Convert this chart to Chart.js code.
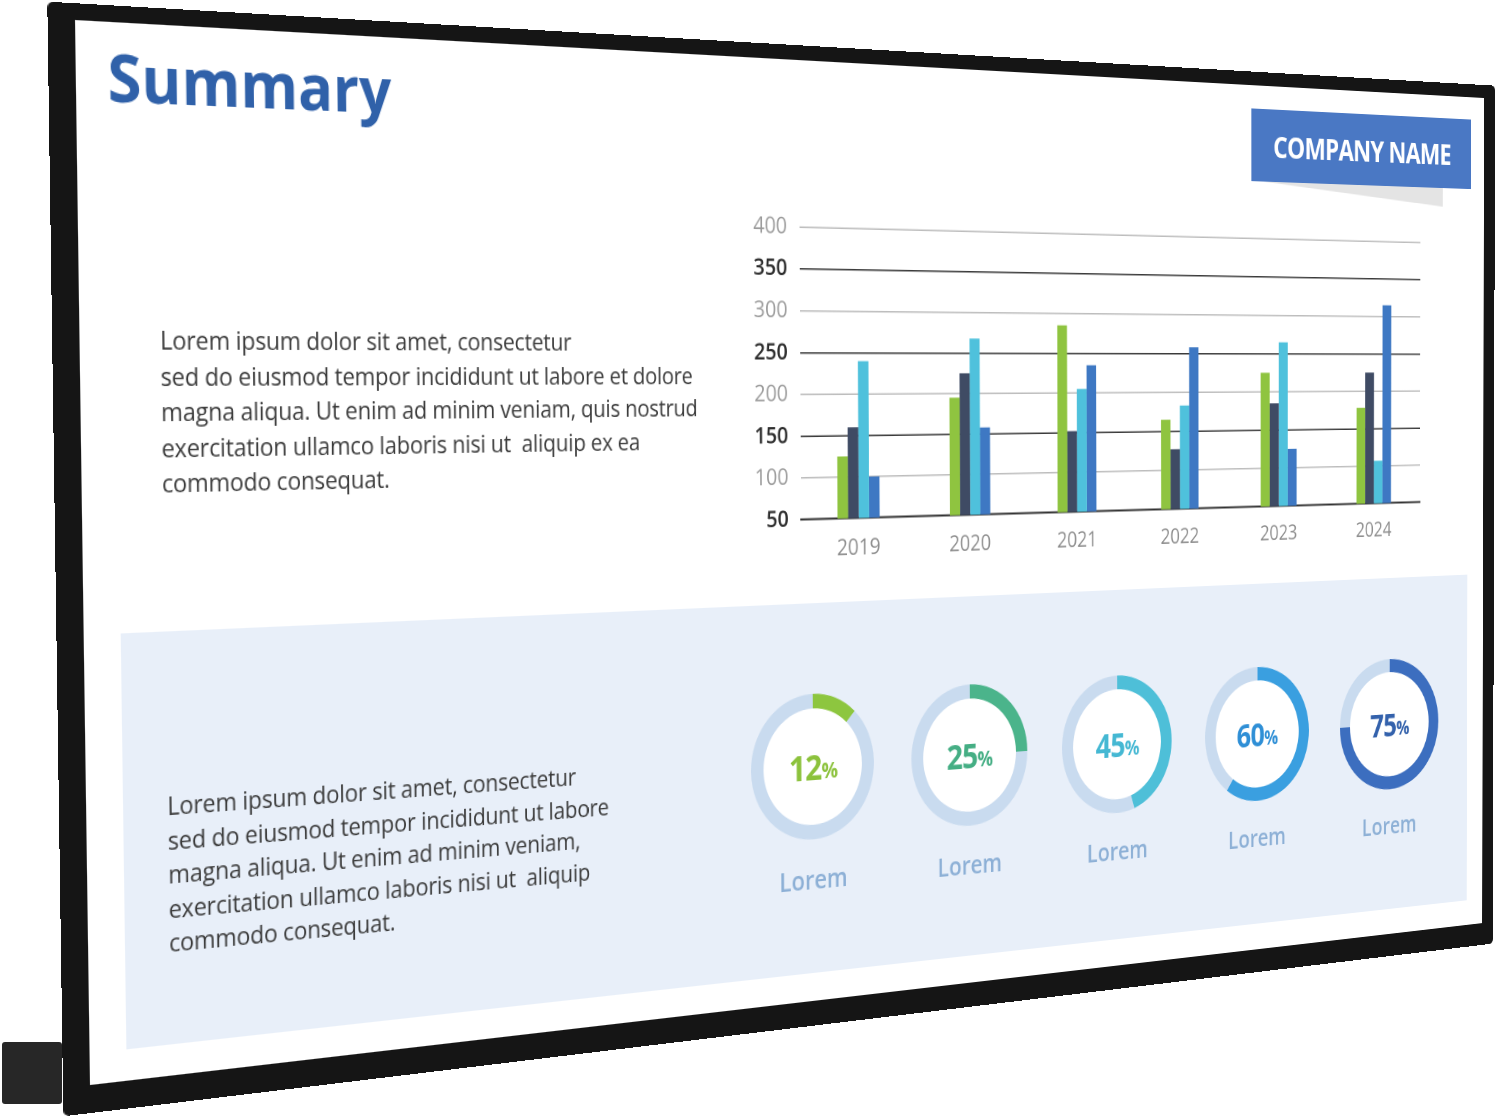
<!DOCTYPE html>
<html>
<head>
<meta charset="utf-8">
<script src="https://cdn.jsdelivr.net/npm/chart.js@4.4.1/dist/chart.umd.min.js"></script>
<style>
    html, body { margin: 0; padding: 0; background: #fff; width: 1500px; height: 1118px; overflow: hidden; font-family: "Open Sans", sans-serif; }
    #bracket { position: absolute; left: 2px; top: 1042px; width: 60px; height: 62px; background: #272727; border-radius: 3px; }
    #screen { position: absolute; left: 0; top: 0; width: 1600px; height: 900px; transform-origin: 0 0; }
    #bezel { position: absolute; left: -24px; top: -14px; right: -16px; bottom: -24px; background: #151515; border-radius: 5px; }
    #inner { position: absolute; left: 0; top: 0; width: 1600px; height: 900px; background: #fff; overflow: hidden; }
    .title { position: absolute; left: 28px; top: 18px; font-size: 55px; font-weight: 700; color: #3061a9; line-height: 1; }
    .company { position: absolute; left: 1274px; top: 24px; width: 307px; height: 75px; background: #4a78c4; color: #fff;
               font-size: 31px; font-weight: 700; letter-spacing: -1px; display: flex; align-items: center; justify-content: center; }
    .company-shadow { position: absolute; left: 1290px; top: 99px; width: 250px; height: 20px; background: #e4e4e4;
                      clip-path: polygon(0 0, 100% 0, 100% 100%); }
    .para { position: absolute; font-size: 21.5px; color: #3b3b3b; white-space: nowrap; letter-spacing: -0.2px; }
    .para.top { left: 72px; top: 253px; line-height: 30.5px; }
    .para.bottom { left: 73px; top: 652px; line-height: 29.5px; }
    .panel { position: absolute; left: 33px; top: 517px; width: 1544px; height: 356px; background: #e8eff9; }
    #bars { position: absolute; left: 639px; top: 131px; }
    .donut { position: absolute; width: 140px; height: 140px; }
    .donut .disc { position: absolute; left: 10px; top: 10px; width: 120px; height: 120px; border-radius: 50%; background: #fff; }
    .donut canvas { position: absolute; left: 0; top: 0; }
    .donut .pct { position: absolute; left: 0; top: 0; width: 140px; height: 140px; display: flex; align-items: center; justify-content: center;
                  font-weight: 700; letter-spacing: -1px; }
    .donut .pct .n { font-size: 34px; }
    .donut .pct .p { font-size: 21px; margin-top: 8px; }
    .donut-label { position: absolute; width: 140px; text-align: center; font-size: 25px; font-weight: 600; color: #8db0d6; }
</style>
</head>
<body>
<div id="bracket"></div>
<div id="screen">
    <div id="bezel"></div>
    <div id="inner">
        <div class="title">Summary</div>
        <div class="company-shadow"></div>
        <div class="company">COMPANY NAME</div>
        <div class="para top">Lorem ipsum dolor sit amet, consectetur<br>sed do eiusmod tempor incididunt ut labore et dolore<br>magna aliqua. Ut enim ad minim veniam, quis nostrud<br>exercitation ullamco laboris nisi ut&nbsp; aliquip ex ea<br>commodo consequat.</div>
        <canvas id="bars" width="881" height="356"></canvas>
        <div class="panel"></div>
        <div class="para bottom">Lorem ipsum dolor sit amet, consectetur<br>sed do eiusmod tempor incididunt ut labore<br>magna aliqua. Ut enim ad minim veniam,<br>exercitation ullamco laboris nisi ut&nbsp; aliquip<br>commodo consequat.</div>
        <div id="donuts"></div>
    </div>
</div>

<script>
// ── Data ────────────────────────────────────

const years = ['2019', '2020', '2021', '2022', '2023', '2024'];
const seriesGreen = [125, 195, 285, 165, 225, 178];
const seriesNavy  = [160, 225, 152, 127, 185, 225];
const seriesCyan  = [240, 268, 205, 183, 265, 107];
const seriesBlue  = [100, 158, 235, 258, 125, 315];
const yMin = 50;
const yMax = 400;
const yStep = 50;

const donutValues = [12, 25, 45, 60, 75];
const donutLabels = ['Lorem', 'Lorem', 'Lorem', 'Lorem', 'Lorem'];

// ── Colours ─────────────────────────────────

const barColors = ['#8fc440', '#3f4b64', '#4fc1dc', '#3e78c3'];
const donutColors = ['#8dc63f', '#4bb48b', '#4ebfd8', '#3a9fe0', '#3c6ebf'];
const donutTextColors = ['#8cc23c', '#45ae84', '#45b8d3', '#2f8fd6', '#3462ac'];
const trackColor = '#c9dbef';

// ── Screen in perspective ───────────────────
// map the flat 1600x900 screen onto the photographed quad

function quadTransform(W, H, q) {
    const [x0, y0] = q[0], [x1, y1] = q[1], [x2, y2] = q[2], [x3, y3] = q[3];
    const dx1 = x1 - x2, dx2 = x3 - x2, dx3 = x0 - x1 + x2 - x3;
    const dy1 = y1 - y2, dy2 = y3 - y2, dy3 = y0 - y1 + y2 - y3;
    const den = dx1 * dy2 - dy1 * dx2;
    const g = (dx3 * dy2 - dy3 * dx2) / den;
    const h = (dx1 * dy3 - dy1 * dx3) / den;
    const a = x1 - x0 + g * x1, b = x3 - x0 + h * x3, c = x0;
    const d = y1 - y0 + g * y1, e = y3 - y0 + h * y3, f = y0;
    return `matrix3d(${a / W},${d / W},0,${g / W},${b / H},${e / H},0,${h / H},0,0,1,0,${c},${f},0,1)`;
}

document.getElementById('screen').style.transform =
    quadTransform(1600, 900, [[75, 20], [1484, 98], [1482, 923], [90, 1085]]);

// ── Bar Chart ───────────────────────────────

const isMajor = c => !!c.tick && c.tick.value % 100 === 0;

new Chart(document.getElementById('bars'), {
    type: 'bar',
    data: {
        labels: years,
        datasets: [seriesGreen, seriesNavy, seriesCyan, seriesBlue].map((s, i) => ({
            label: 'S' + (i + 1),
            data: s,
            backgroundColor: barColors[i],
            borderWidth: 0
        }))
    },
    options: {
        responsive: false,
        animation: false,
        devicePixelRatio: 2,
        layout: { padding: { top: 4, right: 12 } },
        datasets: { bar: { categoryPercentage: 0.37, barPercentage: 1.0 } },
        scales: {
            x: {
                grid: { display: false },
                border: { color: '#333', width: 2 },
                ticks: { color: '#8e8e8e', font: { size: 22, family: 'Open Sans' }, padding: 8 }
            },
            y: {
                min: yMin, max: yMax,
                afterFit: s => { s.width = 80; },
                border: { display: false },
                grid: {
                    drawTicks: false,
                    lineWidth: 1.5,
                    color: c => isMajor(c) ? '#bdbdbd' : '#3a3a3a'
                },
                ticks: {
                    stepSize: yStep,
                    padding: 14,
                    color: c => isMajor(c) ? '#9b9b9b' : '#2e2e2e',
                    font: c => ({ size: 22, family: 'Open Sans', weight: isMajor(c) ? '400' : '600' })
                }
            }
        },
        plugins: { legend: { display: false }, tooltip: { enabled: false } }
    }
});

// ── Doughnut Charts ─────────────────────────

const donutBox = document.getElementById('donuts');
donutValues.forEach((v, i) => {
    const cx = 731 + i * 183.5, cy = 674;
    const wrap = document.createElement('div');
    wrap.className = 'donut';
    wrap.style.left = (cx - 70) + 'px';
    wrap.style.top = (cy - 70) + 'px';
    wrap.innerHTML = `<div class="disc"></div><canvas width="140" height="140"></canvas>
        <div class="pct" style="color:${donutTextColors[i]}"><span class="n">${v}</span><span class="p">%</span></div>`;
    donutBox.appendChild(wrap);

    const label = document.createElement('div');
    label.className = 'donut-label';
    label.style.left = (cx - 70) + 'px';
    label.style.top = (cy + 91) + 'px';
    label.textContent = donutLabels[i];
    donutBox.appendChild(label);

    new Chart(wrap.querySelector('canvas'), {
        type: 'doughnut',
        data: {
            labels: [donutLabels[i], 'Remaining'],
            datasets: [{
                data: [v, 100 - v],
                backgroundColor: [donutColors[i], trackColor],
                borderWidth: 0
            }]
        },
        options: {
            responsive: false,
            animation: false,
            devicePixelRatio: 2,
            cutout: '80%',
            plugins: { legend: { display: false }, tooltip: { enabled: false } }
        }
    });
});
</script>
</body>
</html>
